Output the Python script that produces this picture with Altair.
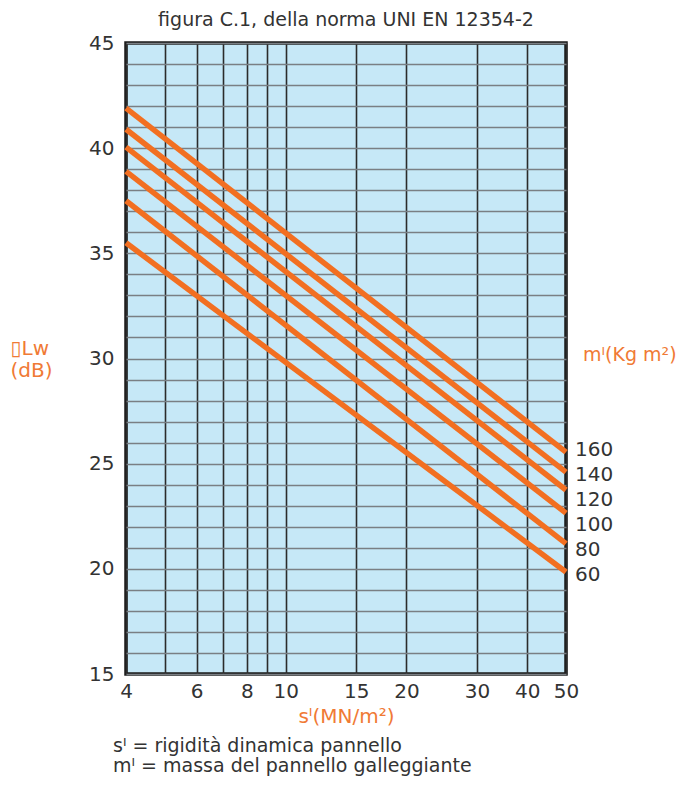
import altair as alt
import pandas as pd

# data
masses = [60, 80, 100, 120, 140, 160]
s_start = 4
s_end = 50
lw_at_start = [35.5, 37.5, 38.9, 40.05, 40.9, 41.9]
lw_at_end = [19.85, 21.2, 22.65, 23.75, 24.6, 25.55]

x_grid = [4, 5, 6, 7, 8, 9, 10, 15, 20, 30, 40, 50]
x_labels = [4, 6, 8, 10, 15, 20, 30, 40, 50]
y_grid = list(range(15, 46))

ORANGE = "#F26F21"
ORANGE_TXT = "#F07A35"
DARK = "#333333"
FONT = "DejaVu Sans"

rows = []
for m, a, b in zip(masses, lw_at_start, lw_at_end):
    rows.append({"m": m, "s": s_start, "lw": a})
    rows.append({"m": m, "s": s_end, "lw": b})
lines_df = pd.DataFrame(rows)

# labels stacked evenly downward from the top line's end
top = max(lw_at_end)
step = 1.19
lab_df = pd.DataFrame({
    "m": masses,
    "s": [s_end] * len(masses),
    "ly": [top - step * (len(masses) - 1 - i) + 0.1 for i in range(len(masses))],
    "txt": [str(m) for m in masses],
})

W, H = 440, 631

xscale = alt.Scale(type="log", domain=[4, 50], nice=False)
yscale = alt.Scale(domain=[15, 45], nice=False, zero=False)

label_expr_x = "indexof([4,6,8,10,15,20,30,40,50], datum.value) >= 0 ? datum.label : ''"

base = alt.Chart(lines_df).encode(
    x=alt.X("s:Q", scale=xscale,
            axis=alt.Axis(values=x_grid, tickCount=60, format="d", labelExpr=label_expr_x,
                          grid=True, gridColor="#2b2b2b", gridWidth=1.6, ticks=False, domain=False,
                          labelFontSize=20, labelColor=DARK, labelFont=FONT, labelPadding=7,
                          labelFlush=False, labelOverlap=False,
                          title="sᴵ(MN/m²)", titleColor=ORANGE_TXT, titleFont=FONT,
                          titleFontSize=20, titleFontWeight="normal", titlePadding=5)),
    y=alt.Y("lw:Q", scale=yscale,
            axis=alt.Axis(values=y_grid, tickCount=60, format="d",
                          labelExpr="datum.value % 5 == 0 ? datum.label : ''",
                          grid=True, gridColor="#7a7f84", gridWidth=1.6, ticks=False, domain=False,
                          labelFontSize=20, labelColor=DARK, labelFont=FONT, labelPadding=12,
                          labelOverlap=False,
                          title=["▯Lw", "(dB)"], titleColor=ORANGE_TXT, titleFont=FONT,
                          titleFontSize=20, titleFontWeight="normal", titleAngle=0,
                          titleAlign="left", titleBaseline="middle",
                          titleX=-116, titleY=305, titleLineHeight=22)),
)

lines = base.mark_line(color=ORANGE, strokeWidth=5.5, strokeCap="butt").encode(detail="m:N")

labels = alt.Chart(lab_df).mark_text(align="left", baseline="middle", dx=9,
                                     fontSize=20, font=FONT, color=DARK).encode(
    x=alt.X("s:Q", scale=xscale), y=alt.Y("ly:Q", scale=yscale), text="txt:N")


def note(txt, xpos, ypos, size, color, align="left"):
    return alt.Chart(pd.DataFrame({"t": [txt]})).mark_text(
        align=align, baseline="middle", fontSize=size, font=FONT, color=color).encode(
        x=alt.value(xpos), y=alt.value(ypos), text="t:N")


title = note("figura C.1, della norma UNI EN 12354-2", W / 2, -23, 19, DARK, align="center")
right_title = note("mᴵ(Kg m²)", W + 17, 312, 19, ORANGE_TXT)
cap1 = note("sᴵ = rigidità dinamica pannello", -13, H + 72, 19, DARK)
cap2 = note("mᴵ = massa del pannello galleggiante", -13, H + 92, 19, DARK)

chart = alt.layer(lines, labels, title, right_title, cap1, cap2).properties(
    width=W, height=H,
    autosize=alt.AutoSizeParams(type="none"),
    padding={"left": 118, "top": 35, "right": 125, "bottom": 103},
    view=alt.ViewBackground(fill="#C6E8F7", stroke="#1a1a1a", strokeWidth=3.5),
).configure(background="white")

chart.save("out.html", embed_options={"renderer": "svg", "actions": False})
